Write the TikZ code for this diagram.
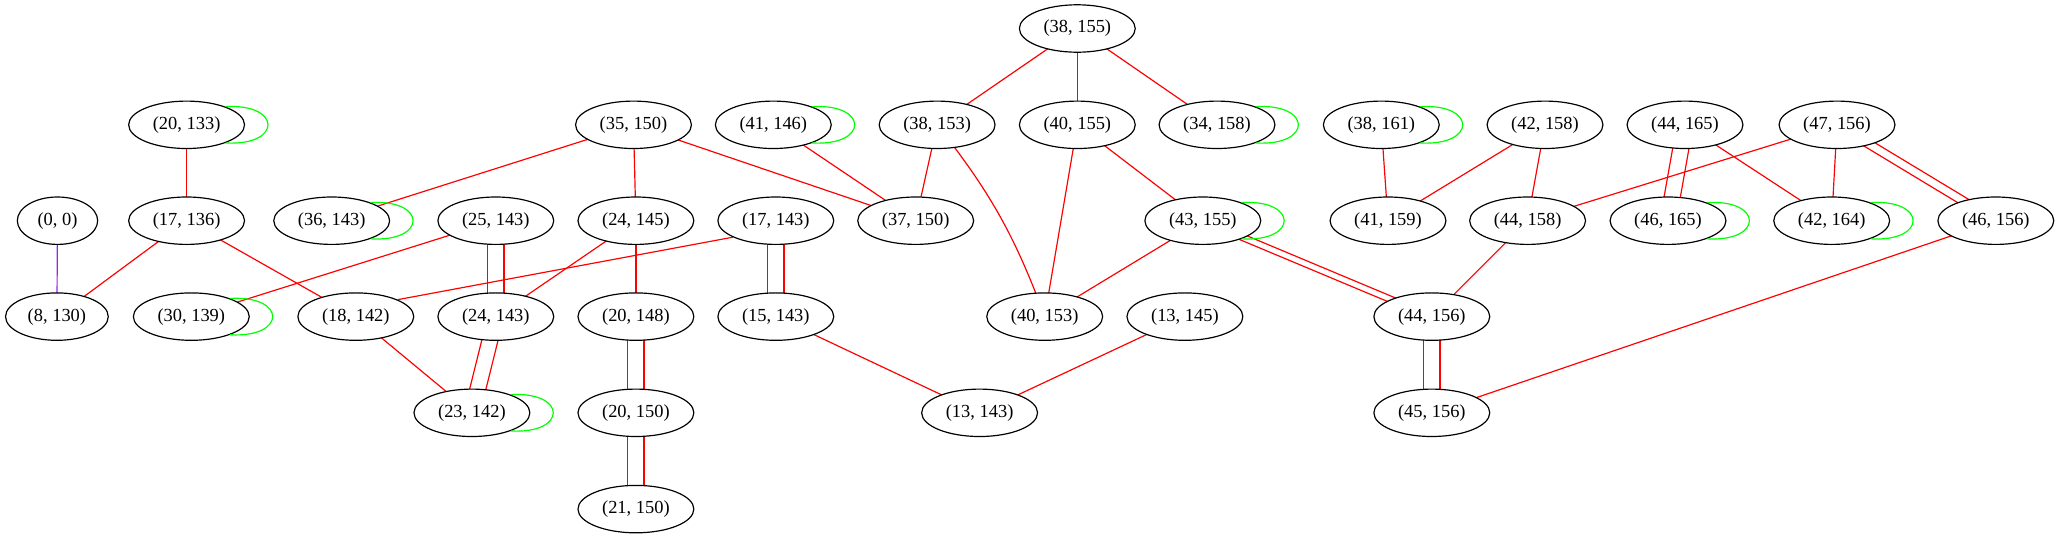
\documentclass[tikz,border=0pt]{standalone}
\usepackage{fontspec}
\setmainfont{Liberation Serif}
\usetikzlibrary{shapes.geometric}
\definecolor{gvred}{HTML}{FF0000}
\definecolor{gvgreen}{HTML}{00FF00}
\definecolor{gvpurple}{HTML}{A020F0}
\pgfdeclarelayer{bg}
\pgfsetlayers{bg,main}
\newcommand\dbledge[2]{%
  \draw[re] ([xshift=-6.2pt]#1.center) -- ([xshift=-6.2pt]#2.center);
  \draw[re] ([xshift=6.2pt]#1.center) -- ([xshift=6.2pt]#2.center);}
\newcommand\selfloop[1]{%
  \draw[lp] (#1.25) .. controls +(43pt,2.5pt) and +(43pt,-2.5pt) .. (#1.-25);}
\begin{document}
\begin{tikzpicture}[x=0.7594pt,y=-0.7594pt,
  nd/.style={ellipse, draw=black, fill=white, line width=0.9pt, minimum width=88pt,
    minimum height=36pt, inner sep=0pt, font=\fontsize{14}{16}\selectfont},
  re/.style={draw=gvred, line width=0.9pt},
  lp/.style={draw=gvgreen, line width=0.9pt},
  pu/.style={draw=gvpurple, line width=0.9pt}]
\useasboundingbox (0,0) rectangle (2059,539);
% nodes
\node[nd] (n2013) at (186.6,124.8) {(20, 133)};
\node[nd] (n3550) at (633.5,124.8) {(35, 150)};
\node[nd,minimum width=61pt] (n0000) at (57.5,220.7) {(0, 0)};
\node[nd] (n1736) at (186.6,220.7) {(17, 136)};
\node[nd] (n3643) at (331.7,220.7) {(36, 143)};
\node[nd] (n2543) at (495.8,220.7) {(25, 143)};
\node[nd] (n2445) at (635.9,220.7) {(24, 145)};
\node[nd,minimum width=78pt] (n0830) at (56.9,316.6) {(8, 130)};
\node[nd] (n3039) at (191.3,316.6) {(30, 139)};
\node[nd] (n1842) at (355.8,316.6) {(18, 142)};
\node[nd] (n2443) at (495.8,316.6) {(24, 143)};
\node[nd] (n2048) at (635.9,316.6) {(20, 148)};
\node[nd] (n2342) at (471.9,412.8) {(23, 142)};
\node[nd] (n2050) at (635.9,412.8) {(20, 150)};
\node[nd] (n2150) at (635.9,509.1) {(21, 150)};
\node[nd] (n3855) at (1077.3,28.5) {(38, 155)};
\node[nd] (n4146) at (773.3,124.8) {(41, 146)};
\node[nd] (n3853) at (937.1,124.8) {(38, 153)};
\node[nd] (n4055) at (1077.3,124.8) {(40, 155)};
\node[nd] (n3458) at (1217,124.8) {(34, 158)};
\node[nd] (n3861) at (1381.3,124.8) {(38, 161)};
\node[nd] (n1743) at (775.8,220.7) {(17, 143)};
\node[nd] (n3750) at (915.7,220.7) {(37, 150)};
\node[nd] (n4355) at (1202.8,220.7) {(43, 155)};
\node[nd] (n4159) at (1388,220.7) {(41, 159)};
\node[nd] (n1543) at (775.8,316.6) {(15, 143)};
\node[nd] (n4053) at (1044.7,316.6) {(40, 153)};
\node[nd] (n1345) at (1184.9,316.6) {(13, 145)};
\node[nd] (n1343) at (979.6,412.8) {(13, 143)};
\node[nd] (n4258) at (1545,124.8) {(42, 158)};
\node[nd] (n4465) at (1685,124.8) {(44, 165)};
\node[nd] (n4756) at (1837,124.8) {(47, 156)};
\node[nd] (n4458) at (1527.6,220.7) {(44, 158)};
\node[nd] (n4665) at (1668,220.7) {(46, 165)};
\node[nd] (n4264) at (1831.7,220.7) {(42, 164)};
\node[nd] (n4656) at (1995.8,220.7) {(46, 156)};
\node[nd] (n4456) at (1431.8,316.6) {(44, 156)};
\node[nd] (n4556) at (1431.8,412.8) {(45, 156)};
% edges
\begin{pgfonlayer}{bg}
\draw[pu] (n0000.center) -- (n0830.center);
\draw[re] (n2013.center) -- (n1736.center);
\draw[re] (n1736.center) -- (n0830.center);
\draw[re] (n1736.center) -- (n1842.center);
\draw[re] (n3550.center) -- (n3643.center);
\draw[re] (n3550.center) -- (n2445.center);
\draw[re] (n3550.center) -- (n3750.center);
\draw[re] (n2543.center) -- (n3039.center);
\dbledge{n2543}{n2443}
\draw[re] (n2445.center) -- (n2443.center);
\draw[re] (n2445.center) -- (n2048.center);
\draw[re] (n1743.201) -- (n1842.22);
\dbledge{n1743}{n1543}
\draw[re] (n1842.center) -- (n2342.center);
\dbledge{n2443}{n2342}
\dbledge{n2048}{n2050}
\dbledge{n2050}{n2150}
\draw[re] (n4146.center) -- (n3750.center);
\draw[re] (n3855.center) -- (n3853.center);
\draw[re] (n3855.center) -- (n4055.center);
\draw[re] (n3855.center) -- (n3458.center);
\draw[re] (n3853.center) -- (n3750.center);
\draw[re] (n3853.center) to[bend left=9] (n4053.center);
\draw[re] (n4055.center) -- (n4053.center);
\draw[re] (n4055.center) -- (n4355.center);
\draw[re] (n4355.center) -- (n4053.center);
\dbledge{n4355}{n4456}
\draw[re] (n1543.center) -- (n1343.center);
\draw[re] (n1345.center) -- (n1343.center);
\draw[re] (n3861.center) -- (n4159.center);
\draw[re] (n4258.center) -- (n4159.center);
\draw[re] (n4258.center) -- (n4458.center);
\dbledge{n4465}{n4665}
\draw[re] (n4465.center) -- (n4264.center);
\draw[re] (n4756.center) -- (n4458.center);
\draw[re] (n4756.center) -- (n4264.center);
\dbledge{n4756}{n4656}
\draw[re] (n4458.center) -- (n4456.center);
\dbledge{n4456}{n4556}
\draw[re] (n4656.center) -- (n4556.center);
\end{pgfonlayer}
% self-loops
\selfloop{n2013}
\selfloop{n3643}
\selfloop{n3039}
\selfloop{n2342}
\selfloop{n4146}
\selfloop{n3458}
\selfloop{n4355}
\selfloop{n3861}
\selfloop{n4665}
\selfloop{n4264}
\end{tikzpicture}
\end{document}
